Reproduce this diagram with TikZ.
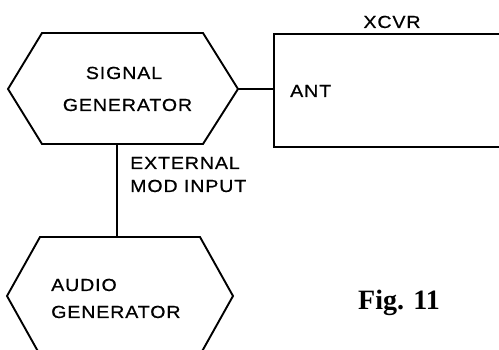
\documentclass[tikz,border=0pt]{standalone}
\usepackage{fontspec}
\setmainfont{Liberation Serif}
\newfontfamily\labfont{Liberation Sans}[LetterSpace=5,FakeBold=0.6,FakeStretch=1.12]
\usetikzlibrary{calc}
\begin{document}
\begin{tikzpicture}[x=1pt,y=-1pt,
  hexline/.style={line width=1.9pt,line join=miter},
  wire/.style={line width=1.2pt},
  lab/.style={inner sep=0,font=\labfont\fontsize{17.5}{17.5}\selectfont},
]
\useasboundingbox (0,0) rectangle (499,350);
\clip (0,0) rectangle (499,350);
\fill[white] (0,0) rectangle (499,350);
% signal generator
\node[inner sep=0,outer sep=0,minimum width=161,minimum height=111] (sg) at (122.5,88.5) {};
\coordinate (sgw) at (8,89);
\coordinate (sge) at (238,89);
\draw[hexline] (sg.north west) -- (sg.north east) -- (sge) -- (sg.south east) -- (sg.south west) -- (sgw) -- cycle;
% audio generator
\node[inner sep=0,outer sep=0,minimum width=160,minimum height=118] (ag) at (120,296) {};
\coordinate (agw) at (7,296);
\coordinate (age) at (233,296);
\draw[hexline] (ag.north west) -- (ag.north east) -- (age) -- (ag.south east) -- (ag.south west) -- (agw) -- cycle;
% transceiver
\node[draw,line width=1.8pt,inner sep=0,outer sep=0,minimum width=260,minimum height=113,anchor=north west] (xcvr) at (274,34) {};
% connectors
\draw[wire] (sge) -- (sge -| xcvr.west);
\draw[wire] ($(sg.south west)+(75,0)$) -- ($(ag.north west)+(77,0)$);
% labels
\node[lab,anchor=base] (sgl1) at (124,79) {SIGNAL};
\node[lab,anchor=base] (sgl2) at (127.5,111) {GENERATOR};
\node[lab,anchor=base west] (ext) at (130,169) {EXTERNAL};
\node[lab,anchor=base west] (mod) at (130,192) {MOD INPUT};
\node[lab,anchor=base] (xl) at (392,28) {XCVR};
\node[lab,anchor=base west] (ant) at (290,97) {ANT};
\node[lab,anchor=base west] (ag1) at (51,291) {AUDIO};
\node[lab,anchor=base west] (ag2) at (51,318) {GENERATOR};
\node[font=\bfseries\fontsize{28}{28}\selectfont,anchor=base west,inner sep=0] (fig) at (358,310) {Fig. 11};
\end{tikzpicture}
\end{document}
